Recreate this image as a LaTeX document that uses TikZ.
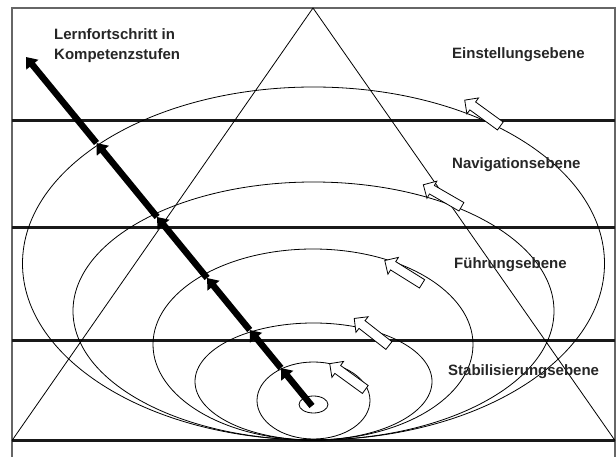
\documentclass[tikz,border=0pt]{standalone}
\usepackage{fontspec}
\setmainfont{Liberation Sans}
\usetikzlibrary{shapes.arrows, arrows.meta, positioning}
\tikzset{
	frameLine/.style={draw=black!60, line width=1.5pt},
	levelLine/.style={black!90, line width=3pt},
	orbit/.style={black, line width=.8pt},
	pyramid/.style={black, line width=.8pt},
	progress/.style={black, line width=6.5pt, -{Triangle[length=10pt,width=15pt]}},
	rotArrow/.style={single arrow, draw=black, fill=white, line width=.8pt, minimum height=44pt, inner xsep=0pt, inner ysep=4.5pt, single arrow head extend=5pt, text height=0pt, text depth=0pt},
	levelLabel/.style={anchor=west, inner sep=0pt, font=\bfseries\fontsize{15}{20.5}\selectfont, text=black!85}
}

\begin{document}
\begin{tikzpicture}[x=1pt, y=-1pt]
\useasboundingbox (0,0) rectangle (616,457);
% frame and levels
\draw[frameLine] (12,457) -- (12,8) -- (615,8) -- (615,457);
\foreach \y in {120.5, 227.5, 340, 440.5}
	\draw[levelLine] (12,\y) -- (615,\y);
% orbits
\draw[orbit] (313.5,263.5) ellipse [x radius=291pt, y radius=176.5pt];
\draw[orbit] (313.5,311) ellipse [x radius=240.5pt, y radius=129pt];
\draw[orbit] (313,344.5) ellipse [x radius=160pt, y radius=95.5pt];
\draw[orbit] (313.5,381.5) ellipse [x radius=118.5pt, y radius=58.5pt];
\draw[orbit] (313.5,400.5) ellipse [x radius=56.5pt, y radius=38.5pt];
\draw[orbit] (313.5,404.5) ellipse [x radius=14.5pt, y radius=8.5pt];
% pyramid
\coordinate (apex) at (313,8);
\coordinate (baseL) at (12,440.5);
\coordinate (baseR) at (615,440.5);
\draw[pyramid] (baseL) -- (apex) -- (baseR);
% progress arrow
\coordinate (p0) at (312,406);
\coordinate (p1) at (280.9,368);
\coordinate (p2) at (249.7,330);
\coordinate (p3) at (207.1,278);
\coordinate (p4) at (157.1,217);
\coordinate (p5) at (96.5,143);
\coordinate (p6) at (26,57);
\foreach \a/\b in {p0/p1, p1/p2, p2/p3, p3/p4, p4/p5, p5/p6}
	\draw[progress] (\a) -- (\b);
% rotation arrows
\node[rotArrow, rotate=144] (rot1) at (484.5,114.5) {};
\node[rotArrow, rotate=150] (rot2) at (444.5,197) {};
\node[rotArrow, rotate=148] (rot3) at (405.5,273.5) {};
\node[rotArrow, rotate=142] (rot4) at (373.5,333.5) {};
\node[rotArrow, rotate=144] (rot5) at (349.5,378) {};
% labels
\node[levelLabel] (einst) at (452,55) {Einstellungsebene};
\node[levelLabel] (navi) at (452,165) {Navigationsebene};
\node[levelLabel] (fuehr) at (454,265) {Führungsebene};
\node[levelLabel] (stabi) at (448,372) {Stabilisierungsebene};
\node[levelLabel, align=left] (fortschritt) at (54,45.5) {Lernfortschritt in\\Kompetenzstufen};
\end{tikzpicture}
\end{document}
